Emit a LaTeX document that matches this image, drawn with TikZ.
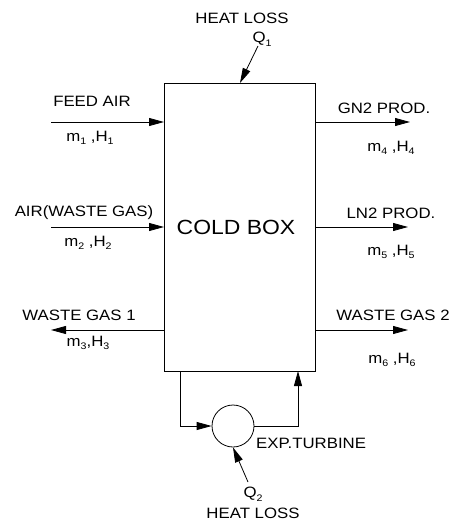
\documentclass[tikz,border=0pt]{standalone}
\usepackage{fontspec}
\setmainfont{Liberation Sans}[FakeStretch=1.12]
\usetikzlibrary{arrows.meta}
\newcommand{\mysub}[1]{\raisebox{-0.45ex}{\fontsize{9.5}{9.5}\selectfont #1}}
\begin{document}
\begin{tikzpicture}[x=1pt,y=-1pt,
  tip/.style={-{Triangle[length=15pt,width=8pt]}},
  flow/.style={line width=0.8pt,tip},
  pipe/.style={line width=0.8pt},
  lbl/.style={inner sep=0pt,font=\fontsize{15}{15}\selectfont},
  big/.style={inner sep=0pt,font=\fontsize{20.5}{20.5}\selectfont}]
\useasboundingbox (0,0) rectangle (452,525);
% cold box
\node[draw,line width=0.8pt,minimum width=151pt,minimum height=288pt,inner sep=0pt] (box) at (239.5,227) {};
\node[big] (cb) at (236,227) {COLD BOX};
% coordinates
\coordinate (inA) at (51,122);
\coordinate (inB) at (51,227);
\coordinate (outC) at (51,330);
\coordinate (outD) at (410,122);
\coordinate (outE) at (408,227);
\coordinate (outF) at (408,330);
\coordinate (boxA) at (164,122);
\coordinate (boxB) at (164,227);
\coordinate (boxC) at (164,330);
\coordinate (boxD) at (315,122);
\coordinate (boxE) at (315,227);
\coordinate (boxF) at (315,330);
\draw[flow] (inA) -- (boxA);
\draw[flow] (inB) -- (boxB);
\draw[flow] (boxC) -- (outC);
\draw[flow] (boxD) -- (outD);
\draw[flow] (boxE) -- (outE);
\draw[flow] (boxF) -- (outF);
% labels
\node[lbl] (l1) at (92,101) {FEED AIR};
\node[lbl] (s1) at (90,138) {m\mysub{1} ,H\mysub{1}};
\node[lbl] (l2) at (84,213) {AIR(WASTE GAS)};
\node[lbl] (s2) at (88,243) {m\mysub{2} ,H\mysub{2}};
\node[lbl] (l3) at (79,315) {WASTE GAS 1};
\node[lbl] (s3) at (88,343) {m\mysub{3},H\mysub{3}};
\node[lbl] (l4) at (384,108) {GN2 PROD.};
\node[lbl] (s4) at (391,148) {m\mysub{4} ,H\mysub{4}};
\node[lbl] (l5) at (391,213) {LN2 PROD.};
\node[lbl] (s5) at (391,252) {m\mysub{5} ,H\mysub{5}};
\node[lbl] (l6) at (393,315) {WASTE GAS 2};
\node[lbl] (s6) at (392,360) {m\mysub{6} ,H\mysub{6}};
% top heat loss
\node[lbl] (hl1) at (242,18) {HEAT LOSS};
\node[lbl] (q1) at (262,39) {Q\mysub{1}};
\coordinate (q1s) at (258,46);
\coordinate (q1e) at (240,83);
\draw[flow] (q1s) -- (q1e);
% turbine
\node[draw,circle,line width=0.8pt,minimum size=42pt,inner sep=0pt] (tur) at (233,426) {};
\coordinate (bl) at (180,371);
\coordinate (br) at (298,371);
\draw[pipe,tip] (bl) |- (tur.west);
\draw[pipe,tip] (tur.east) -| (br);
\node[lbl,anchor=west] (et) at (256,443) {EXP.TURBINE};
\coordinate (q2s) at (248,482);
\draw[flow] (q2s) -- (tur.south);
\node[lbl] (q2) at (253,494) {Q\mysub{2}};
\node[lbl] (hl2) at (253,513) {HEAT LOSS};
\end{tikzpicture}
\end{document}
